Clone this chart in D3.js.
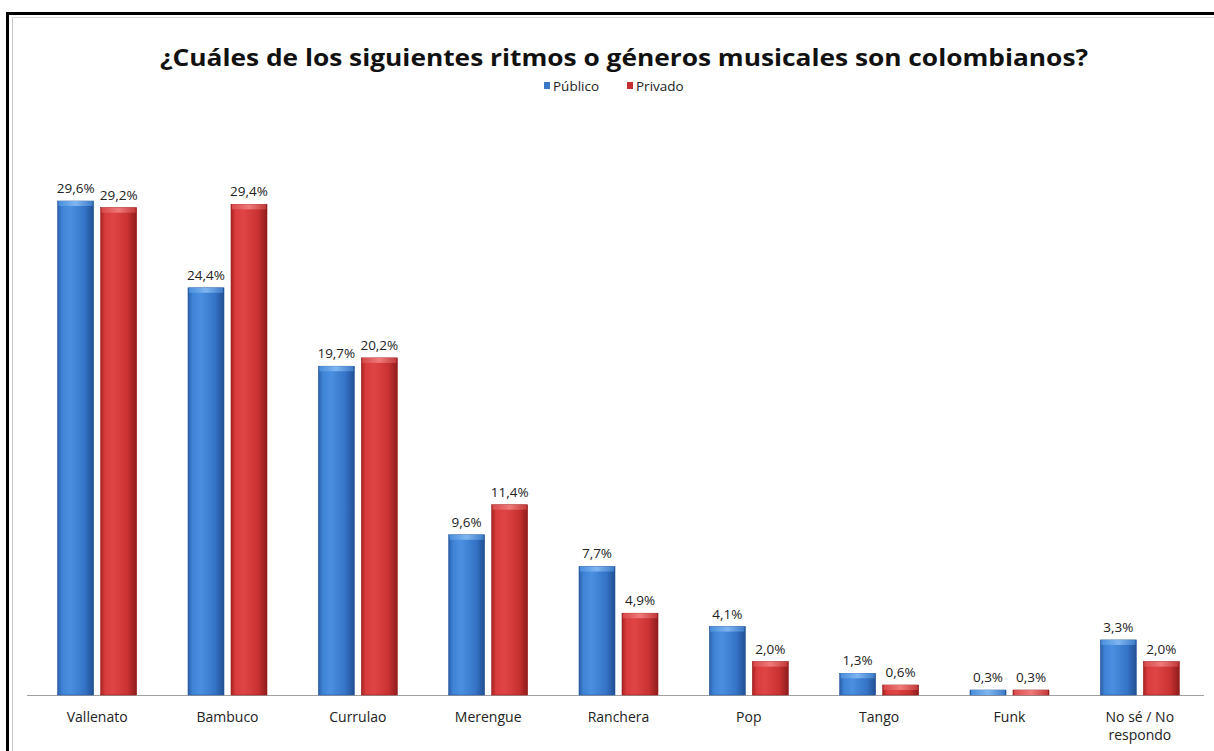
<!DOCTYPE html>
<html>
<head>
<meta charset="utf-8">
<script src="https://cdn.jsdelivr.net/npm/d3@7"></script>
<style>
  html, body { margin: 0; padding: 0; background: #fff; }
  svg { display: block; }
</style>
</head>
<body>
<script>
const categories = ["Vallenato", "Bambuco", "Currulao", "Merengue", "Ranchera", "Pop", "Tango", "Funk", "No sé / No respondo"];
const seriesNames = ["Público", "Privado"];
const publico = [29.6, 24.4, 19.7, 9.6, 7.7, 4.1, 1.3, 0.3, 3.3];
const privado = [29.2, 29.4, 20.2, 11.4, 4.9, 2.0, 0.6, 0.3, 2.0];
const titleText = "¿Cuáles de los siguientes ritmos o géneros musicales son colombianos?";

const W = 1214, H = 751;
const svg = d3.select("body").append("svg").attr("width", W).attr("height", H);
const defs = svg.append("defs");

function makeGrad(id, stops) {
  const g = defs.append("linearGradient").attr("id", id).attr("x1", "0%").attr("x2", "100%").attr("y1", "0%").attr("y2", "0%");
  stops.forEach(([o, c]) => g.append("stop").attr("offset", o).attr("stop-color", c));
}
makeGrad("gBlue", [["0%", "#2a5ea8"], ["12%", "#3f83d6"], ["35%", "#4a8fe0"], ["75%", "#3574c8"], ["100%", "#214f92"]]);
makeGrad("gRed", [["0%", "#a82222"], ["12%", "#d83c3c"], ["35%", "#e04545"], ["75%", "#c93232"], ["100%", "#8e1c1c"]]);
makeGrad("gBlueTop", [["0%", "#4b8fdc"], ["50%", "#7fb6f0"], ["100%", "#3e7cc8"]]);
makeGrad("gRedTop", [["0%", "#d84a4a"], ["50%", "#f07a7a"], ["100%", "#c43a3a"]]);

// frame
svg.append("rect").attr("x", 6).attr("y", 12).attr("width", W).attr("height", 3).attr("fill", "#000");
svg.append("rect").attr("x", 6).attr("y", 12).attr("width", 3).attr("height", H).attr("fill", "#000");
svg.append("line").attr("x1", 12.5).attr("x2", 12.5).attr("y1", 17).attr("y2", H).attr("stroke", "#c8c8c8");
svg.append("line").attr("x1", 12).attr("x2", W).attr("y1", 17.5).attr("y2", 17.5).attr("stroke", "#d8d8d8");

// title
svg.append("text").attr("x", 624).attr("y", 66).attr("text-anchor", "middle")
  .attr("font-family", "'Open Sans', sans-serif").attr("font-weight", "bold").attr("font-size", 24)
  .attr("fill", "#111").attr("textLength", 928).attr("lengthAdjust", "spacingAndGlyphs").text(titleText);

// legend
const colors = { "Público": "url(#gBlue)", "Privado": "url(#gRed)" };
const solid = { "Público": "#3a78c8", "Privado": "#c43030" };
const legendX = [544, 627];
seriesNames.forEach((s, i) => {
  const g = svg.append("g").attr("transform", `translate(${legendX[i]},82)`);
  g.append("rect").attr("width", 6).attr("height", 7).attr("fill", solid[s]);
  g.append("text").attr("x", 9).attr("y", 8.5).attr("font-family", "'Open Sans', sans-serif")
    .attr("font-size", 13.5).attr("fill", "#222").text(s);
});

// scales
const x = d3.scaleBand().domain(categories).range([32, 1205]).padding(0);
const groupW = 79;
const xs = d3.scaleBand().domain(seriesNames).range([0, groupW]).paddingInner(0.1628);
const y = d3.scaleLinear().domain([0, 29.6]).range([695, 201]);

// axis baseline
svg.append("line").attr("x1", 27).attr("x2", 1204).attr("y1", 695.5).attr("y2", 695.5).attr("stroke", "#a0a0a0").attr("stroke-width", 1);

const data = [];
categories.forEach((c, i) => {
  data.push({ cat: c, s: "Público", v: publico[i] });
  data.push({ cat: c, s: "Privado", v: privado[i] });
});

const bars = svg.append("g");
data.forEach(d => {
  const bx = x(d.cat) + x.bandwidth() / 2 - groupW / 2 + xs(d.s);
  const bw = xs.bandwidth();
  const top = y(d.v), h = y(0) - y(d.v);
  const g = bars.append("g");
  g.append("rect").attr("x", bx).attr("y", top).attr("width", bw).attr("height", h)
    .attr("fill", colors[d.s]).attr("stroke", d.s === "Público" ? "#2a5a9e" : "#9a2020").attr("stroke-width", 0.6);
  const capH = Math.min(5, h);
  g.append("rect").attr("x", bx + 1).attr("y", top).attr("width", bw - 2).attr("height", capH)
    .attr("fill", d.s === "Público" ? "url(#gBlueTop)" : "url(#gRedTop)");
  g.append("text").attr("x", bx + bw / 2).attr("y", top - 8).attr("text-anchor", "middle")
    .attr("font-family", "'Open Sans', sans-serif").attr("font-size", 13.5).attr("fill", "#222")
    .text(d.v.toFixed(1).replace(".", ",") + "%");
});

// category labels
categories.forEach(c => {
  const cx = x(c) + x.bandwidth() / 2;
  const t = svg.append("text").attr("x", cx).attr("y", 722).attr("text-anchor", "middle")
    .attr("font-family", "'Open Sans', sans-serif").attr("font-size", 14).attr("fill", "#222");
  if (c === "No sé / No respondo") {
    t.append("tspan").attr("x", cx).attr("dy", 0).text("No sé / No");
    t.append("tspan").attr("x", cx).attr("dy", 18).text("respondo");
  } else {
    t.text(c);
  }
});
</script>
</body>
</html>
